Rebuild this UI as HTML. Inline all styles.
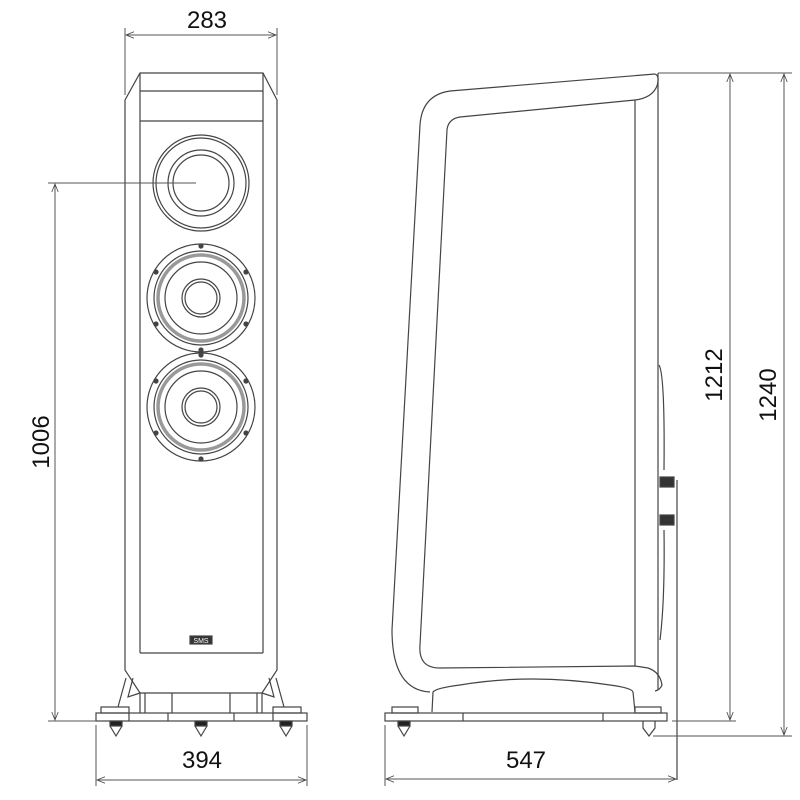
<!DOCTYPE html>
<html><head><style>body{margin:0;background:#fff}svg{display:block}</style></head>
<body>
<svg width="800" height="800" viewBox="0 0 800 800" xmlns="http://www.w3.org/2000/svg" font-family="Liberation Sans, sans-serif">
<defs>
<marker id="a" viewBox="0 0 10 10" refX="10" refY="5" markerWidth="10" markerHeight="8" orient="auto-start-reverse" markerUnits="userSpaceOnUse"><path d="M0,1 L10,5 L0,9" fill="none" stroke="#444" stroke-width="1"/></marker>
</defs>
<g fill="none" stroke="#444" stroke-width="1.2">
<!-- FRONT VIEW -->
<path d="M140,73 L263,73 L277,100 L277,670 L262,693 L140,693 L125,670 L125,100 Z"/>
<line x1="140" y1="73" x2="140" y2="653"/><line x1="263" y1="73" x2="263" y2="653"/>
<line x1="140" y1="91" x2="263" y2="91"/><line x1="140" y1="121" x2="263" y2="121"/>
<line x1="140" y1="653" x2="263" y2="653"/>
<circle cx="201" cy="183" r="48"/><circle cx="201" cy="183" r="45"/>
<circle cx="201" cy="183" r="33"/><circle cx="201" cy="183" r="28"/>
<g id="w">
<circle cx="201" cy="298" r="54"/><circle cx="201" cy="298" r="47"/>
<circle cx="201" cy="298" r="43" stroke="#999" stroke-width="3.5"/>
<circle cx="201" cy="298" r="36"/><circle cx="201" cy="298" r="19"/><circle cx="201" cy="298" r="16"/>
<g fill="#444"><circle cx="201" cy="246" r="2"/><circle cx="201" cy="350" r="2"/><circle cx="156" cy="272" r="2"/><circle cx="246" cy="272" r="2"/><circle cx="156" cy="324" r="2"/><circle cx="246" cy="324" r="2"/></g>
</g>
<use href="#w" y="109"/>
<rect x="190" y="636" width="22" height="8" fill="#333"/>
<!-- front base -->
<line x1="140" y1="693" x2="140" y2="713"/><line x1="262" y1="693" x2="262" y2="713"/>
<line x1="145" y1="693" x2="145" y2="713"/><line x1="257" y1="693" x2="257" y2="713"/>
<line x1="172" y1="693" x2="172" y2="713"/><line x1="230" y1="693" x2="230" y2="713"/>
<path d="M126,678 L118,707 M133,678 L128,697 L140,693 M276,678 L284,707 M269,678 L274,697 L262,693"/>
<rect x="96" y="713" width="211" height="8"/>
<line x1="129" y1="713" x2="129" y2="721"/><line x1="168" y1="713" x2="168" y2="721"/><line x1="234" y1="713" x2="234" y2="721"/><line x1="273" y1="713" x2="273" y2="721"/>
<rect x="101" y="707" width="28" height="6"/><rect x="273" y="707" width="28" height="6"/>
<g fill="#222"><rect x="110" y="721" width="12" height="5"/><rect x="195" y="721" width="12" height="5"/><rect x="280" y="721" width="12" height="5"/></g>
<path d="M110,726 L116,736 L122,726 M195,726 L201,736 L207,726 M280,726 L286,736 L292,726"/>
<!-- SIDE VIEW -->
<path d="M655,74 Q660,76 657,86 Q652,98 635,100 L460,117 Q448,119 447,130 L420,645 Q418,668 440,668 L635,666 L648,668 Q660,672 662,685 Q660,690 655,691"/>
<path d="M655,74 L450,91 Q422,95 420,125 L392,630 Q392,690 430,692"/>
<line x1="658" y1="73" x2="658" y2="690"/><line x1="635" y1="100" x2="635" y2="666"/>
<path d="M432,712 L433,692 Q436,688 460,685 Q530,673 610,685 Q632,688 633,692 L635,712"/>
<rect x="385" y="713" width="282" height="8"/>
<line x1="463" y1="713" x2="463" y2="721"/><line x1="603" y1="713" x2="603" y2="721"/>
<rect x="392" y="707" width="26" height="6"/><rect x="635" y="707" width="26" height="6"/>
<rect x="398" y="721" width="12" height="5" fill="#222"/>
<path d="M398,726 L404,736 L410,726"/>
<path d="M643,721 L643,728 L649,736 L655,728 L655,721"/>
<rect x="660" y="477" width="14" height="10" fill="#333"/><rect x="660" y="515" width="14" height="10" fill="#333"/>
<line x1="677" y1="480" x2="677" y2="780"/>
<path d="M659,365 Q665,375 664,470 M664,530 Q665,600 660,640"/>
<!-- dimensions -->
<g stroke="#555" stroke-width="1">
<line x1="125" y1="28" x2="125" y2="95"/><line x1="277" y1="28" x2="277" y2="95"/>
<line x1="126" y1="35" x2="276" y2="35" marker-start="url(#a)" marker-end="url(#a)"/>
<line x1="48" y1="183" x2="196" y2="183"/>
<line x1="48" y1="721" x2="96" y2="721"/>
<line x1="55" y1="184" x2="55" y2="720" marker-start="url(#a)" marker-end="url(#a)"/>
<line x1="96" y1="725" x2="96" y2="786"/><line x1="307" y1="725" x2="307" y2="786"/>
<line x1="97" y1="780" x2="306" y2="780" marker-start="url(#a)" marker-end="url(#a)"/>
<line x1="385" y1="725" x2="385" y2="786"/>
<line x1="386" y1="779" x2="676" y2="779" marker-start="url(#a)" marker-end="url(#a)"/>
<line x1="658" y1="73" x2="792" y2="73"/>
<line x1="672" y1="721" x2="736" y2="721"/>
<line x1="653" y1="736" x2="792" y2="736"/>
<line x1="730" y1="74" x2="730" y2="720" marker-start="url(#a)" marker-end="url(#a)"/>
<line x1="784" y1="74" x2="784" y2="735" marker-start="url(#a)" marker-end="url(#a)"/>
</g>
</g>
<text x="201" y="643" font-size="7" fill="#fff" text-anchor="middle">SMS</text>
<g fill="#111" font-size="24" text-anchor="middle">
<text x="207" y="28">283</text>
<text x="202" y="768">394</text>
<text x="526" y="768">547</text>
<text transform="translate(49,442) rotate(-90)">1006</text>
<text transform="translate(722,375) rotate(-90)">1212</text>
<text transform="translate(776,395) rotate(-90)">1240</text>
</g>
</svg>
</body></html>
